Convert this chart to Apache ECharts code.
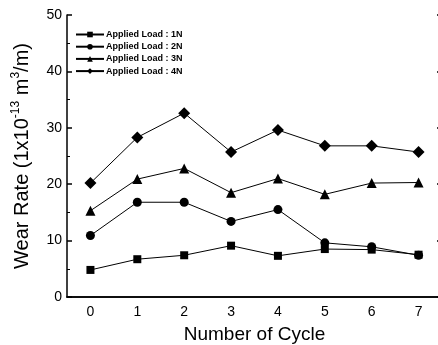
<!DOCTYPE html>
<html>
<head>
<meta charset="utf-8">
<script src="https://cdn.jsdelivr.net/npm/echarts@6/dist/echarts.min.js"></script>
<style>
  html, body { margin: 0; padding: 0; background: #fff; }
  #chart { width: 438px; height: 345px; }
</style>
</head>
<body>
<div id="chart"></div>
<script>
// cycles on the x axis
var cycles = ["0", "1", "2", "3", "4", "5", "6", "7"];
// wear rate, 1x10^-13 m^3/m
var load1N = [4.8, 6.7, 7.4, 9.1, 7.3, 8.5, 8.4, 7.5];
var load2N = [10.9, 16.8, 16.8, 13.4, 15.5, 9.6, 8.9, 7.4];
var load3N = [15.3, 20.9, 22.8, 18.5, 21.0, 18.2, 20.2, 20.3];
var load4N = [20.2, 28.3, 32.6, 25.7, 29.6, 26.8, 26.8, 25.7];
var yTicks = [0, 10, 20, 30, 40, 50];

var myChart = echarts.init(document.getElementById("chart"));

function makeSeries(name, data, symbol, size) {
  return {
    name: name,
    type: "line",
    data: data,
    symbol: symbol,
    symbolSize: size,
    showSymbol: true,
    itemStyle: { color: "#000" },
    lineStyle: { color: "#000", width: 1 },
    emphasis: { disabled: true },
    z: 3
  };
}

var tickStyle = { color: "#000", width: 1.5 };

var option = {
  animation: false,
  textStyle: { fontFamily: "Liberation Sans, Arial, sans-serif" },
  grid: {
    left: 67,
    right: -4,
    top: 15,
    bottom: 48,
    outerBoundsMode: "none",
    containLabel: false
  },
  legend: {
    orient: "vertical",
    left: 70,
    top: 25,
    itemWidth: 28,
    itemHeight: 7,
    itemGap: 3.2,
    textStyle: {
      fontFamily: "Liberation Sans Narrow, Arial Narrow, Liberation Sans, sans-serif",
      fontWeight: "bold",
      fontSize: 9,
      color: "#000",
      padding: [0, 0, 0, -3]
    },
    data: ["Applied Load : 1N", "Applied Load : 2N", "Applied Load : 3N", "Applied Load : 4N"]
  },
  xAxis: [
    {
      type: "category",
      data: cycles,
      boundaryGap: true,
      name: "Number of Cycle",
      nameLocation: "middle",
      nameGap: 28,
      nameTextStyle: { fontSize: 19, color: "#000" },
      axisLine: { lineStyle: { color: "#000", width: 1.5 } },
      axisTick: { alignWithLabel: true, inside: true, length: 5, lineStyle: tickStyle },
      axisLabel: { fontSize: 14, color: "#000", margin: 8 },
      splitLine: { show: false }
    },
    {
      type: "category",
      data: cycles,
      position: "top",
      boundaryGap: true,
      axisLine: { lineStyle: { color: "#000", width: 1.5 } },
      axisTick: { alignWithLabel: true, inside: true, length: 5, lineStyle: tickStyle },
      axisLabel: { show: false },
      splitLine: { show: false }
    }
  ],
  yAxis: [
    {
      type: "value",
      min: 0,
      max: 50,
      interval: 10,
      name: "{a|Wear Rate (1x10}{s|-13}{a| m}{s|3}{a|/m)}",
      nameLocation: "middle",
      nameGap: 33,
      nameRotate: 90,
      nameTextStyle: {
        color: "#000",
        rich: {
          a: { fontSize: 20, color: "#000", lineHeight: 24 },
          s: { fontSize: 12, color: "#000", lineHeight: 14, verticalAlign: "top" }
        }
      },
      axisLine: { show: true, lineStyle: { color: "#000", width: 1.5 } },
      axisTick: { show: true, inside: true, length: 5, lineStyle: tickStyle },
      minorTick: { show: true, splitNumber: 2, length: 3, lineStyle: { color: "#000", width: 1 } },
      axisLabel: {
        fontSize: 14,
        color: "#000",
        margin: 5,
        formatter: function (v) {
          return yTicks.indexOf(v) >= 0 ? String(v) : "";
        }
      },
      splitLine: { show: false }
    },
    {
      type: "value",
      min: 0,
      max: 50,
      interval: 10,
      position: "right",
      axisLine: { show: true, lineStyle: { color: "#000", width: 1.5 } },
      axisTick: { show: true, inside: true, length: 5, lineStyle: tickStyle },
      minorTick: { show: true, splitNumber: 2, length: 3, lineStyle: { color: "#000", width: 1 } },
      axisLabel: { show: false },
      splitLine: { show: false }
    }
  ],
  series: [
    makeSeries("Applied Load : 1N", load1N, "rect", 8),
    makeSeries("Applied Load : 2N", load2N, "circle", 9),
    makeSeries("Applied Load : 3N", load3N, "triangle", 10),
    makeSeries("Applied Load : 4N", load4N, "diamond", 12)
  ]
};

myChart.setOption(option, true);
</script>
</body>
</html>
